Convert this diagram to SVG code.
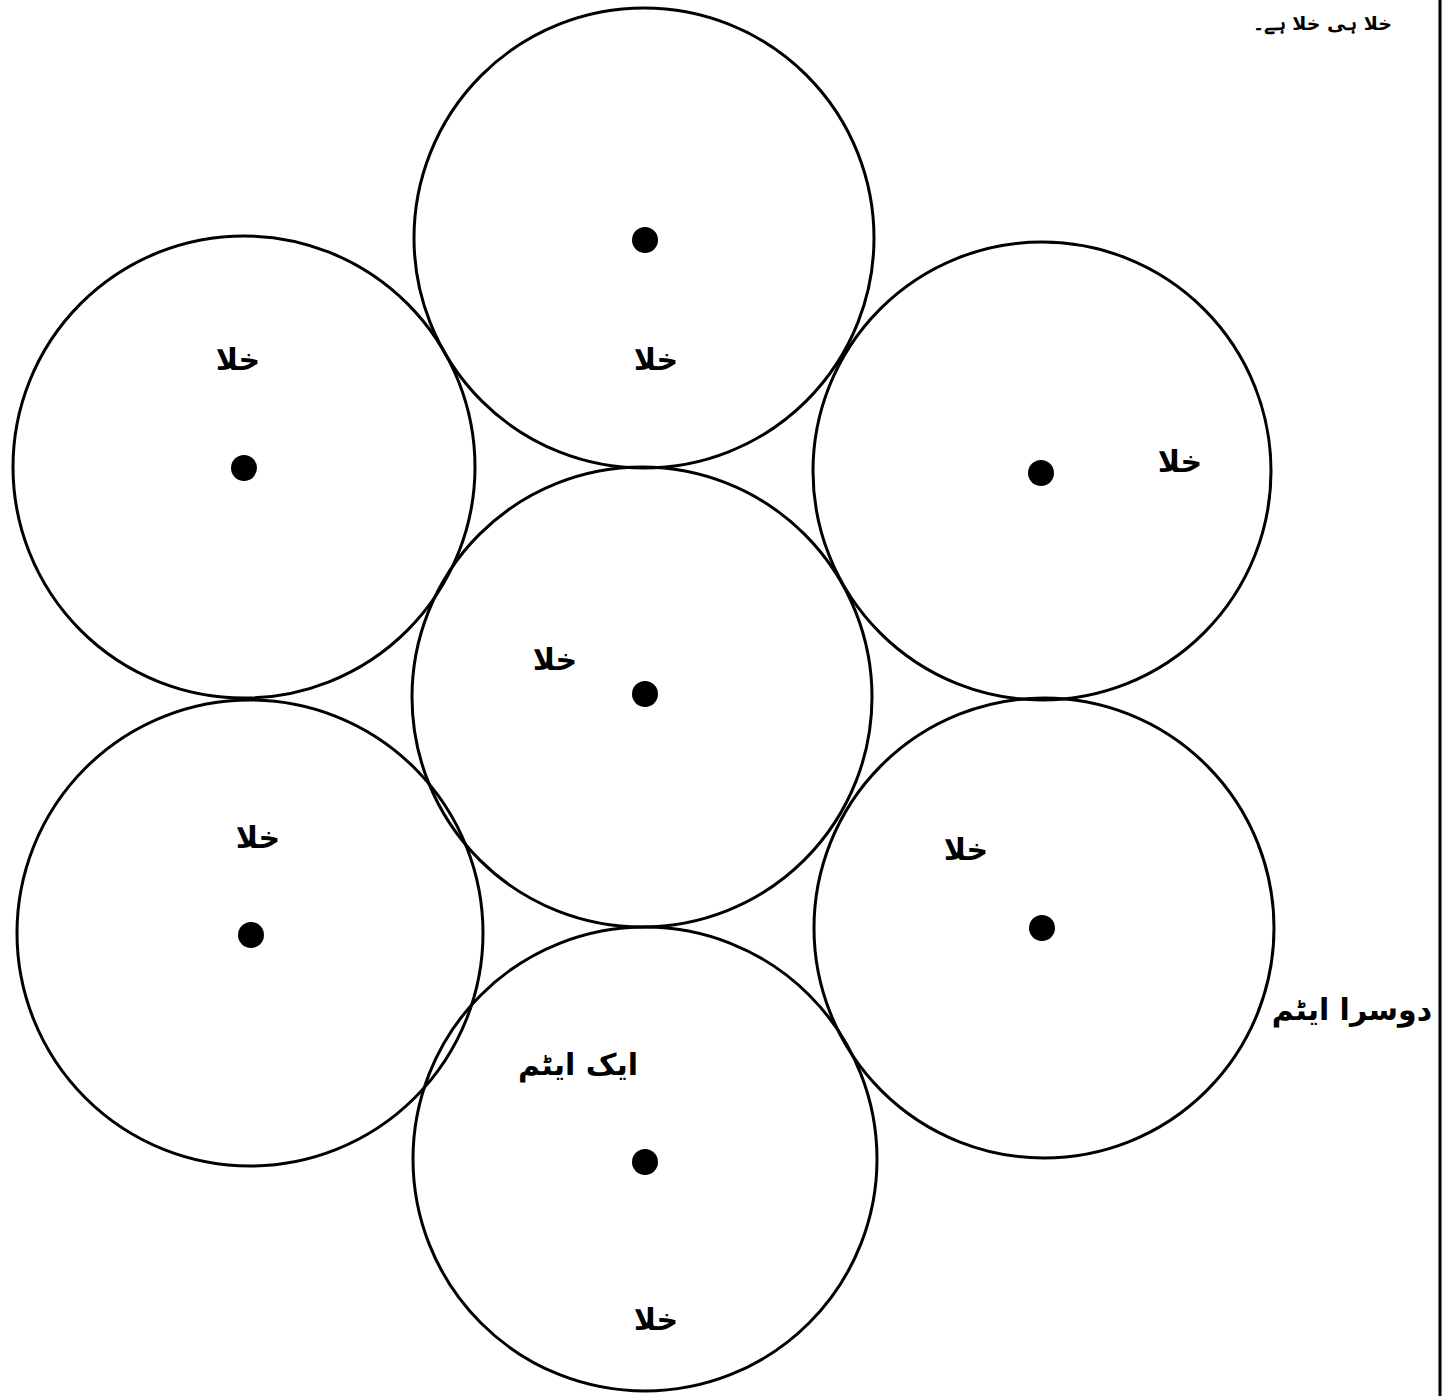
<svg xmlns="http://www.w3.org/2000/svg" width="1446" height="1396" viewBox="0 0 1446 1396">
<style>
.c{fill:none;stroke:#000;stroke-width:3}
.d{fill:#000}
.t{font-family:"DejaVu Sans",sans-serif;font-weight:bold;font-size:30px;fill:#000}
</style>
<rect width="1446" height="1396" fill="#fff"/>
<line x1="1440" y1="0" x2="1440" y2="1396" stroke="#000" stroke-width="3"/>
<text class="t" x="1392" y="30" text-anchor="end" style="font-size:19px">خلا ہی خلا ہے۔</text>
<g id="atom-top"><circle class="c" cx="644" cy="238" r="230"/><circle class="d" cx="645" cy="240" r="13"/><text class="t" x="656" y="370" text-anchor="middle">خلا</text></g>
<g id="atom-upper-left"><circle class="c" cx="244" cy="467" r="231"/><circle class="d" cx="244" cy="468" r="13"/><text class="t" x="238" y="370" text-anchor="middle">خلا</text></g>
<g id="atom-upper-right"><circle class="c" cx="1042" cy="471" r="229"/><circle class="d" cx="1041" cy="473" r="13"/><text class="t" x="1180" y="472" text-anchor="middle">خلا</text></g>
<g id="atom-center"><circle class="c" cx="642" cy="697" r="230"/><circle class="d" cx="645" cy="694" r="13"/><text class="t" x="555" y="670" text-anchor="middle">خلا</text></g>
<g id="atom-lower-left"><circle class="c" cx="250" cy="933" r="233"/><circle class="d" cx="251" cy="935" r="13"/><text class="t" x="258" y="848" text-anchor="middle">خلا</text></g>
<g id="atom-lower-right"><circle class="c" cx="1044" cy="928" r="230"/><circle class="d" cx="1042" cy="928" r="13"/><text class="t" x="966" y="860" text-anchor="middle">خلا</text><text class="t" x="1352" y="1020" text-anchor="middle">دوسرا ایٹم</text></g>
<g id="atom-bottom"><circle class="c" cx="645" cy="1159" r="232"/><circle class="d" cx="645" cy="1162" r="13"/><text class="t" x="578" y="1075" text-anchor="middle">ایک ایٹم</text><text class="t" x="656" y="1330" text-anchor="middle">خلا</text></g>
<g id="connectors"></g>
</svg>
